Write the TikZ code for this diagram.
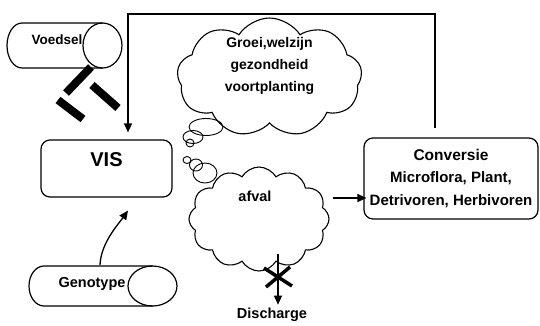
\documentclass[tikz,border=0pt]{standalone}
\usepackage{fontspec}
\setmainfont{Liberation Sans}
\usetikzlibrary{shapes.geometric,shapes.symbols,arrows.meta}
\begin{document}
\begin{tikzpicture}[x=1pt,y=-1pt,
    every node/.style={font=\fontsize{14.5}{21.5}\selectfont\bfseries},
    kast/.style={draw,line width=1.2pt,rounded corners=9pt,align=center},
    vat/.style={draw,line width=1.2pt},
    wolk/.style={cloud,draw,line width=1.1pt,cloud puffs=9,cloud puff arc=115,cloud ignores aspect},
    bel/.style={ellipse,draw,line width=0.9pt,inner sep=0pt},
    pijl/.style={-{Triangle[length=9pt,width=8pt]},line width=1.3pt},
    balk/.style={line width=8pt}]
  \useasboundingbox (0,0) rectangle (540,325);
  % boxes
  \node[kast,minimum width=131pt,minimum height=57pt] (vis) at (106.5,168.5) {};
  \node[font=\fontsize{20}{20}\selectfont\bfseries] (vistekst) at ([yshift=8.5pt]vis.center) {VIS};
  \node[kast,minimum width=174pt,minimum height=81pt,font=\fontsize{15}{22.5}\selectfont\bfseries]
    (conv) at (451,178.5) {{\fontsize{15.5}{15.5}\selectfont Conversie}\\Microflora, Plant,\\Detrivoren, Herbivoren};
  % cylinders
  \draw[vat] (102.5,23) -- (22,23) arc[start angle=270,end angle=90,x radius=15,y radius=22.5] -- (102.5,68);
  \draw[vat] (102.5,45.5) ellipse [x radius=19.5,y radius=22.5];
  \node[font=\fontsize{13.5}{13.5}\selectfont\bfseries] (voedsel) at (57,40) {Voedsel};
  \draw[vat] (152.5,266) -- (44,266) arc[start angle=270,end angle=90,x radius=15,y radius=20] -- (152.5,306);
  \draw[vat] (152.5,286) ellipse [x radius=24.5,y radius=20];
  \node (geno) at (92,284) {Genotype};
  % clouds
  \node[wolk,minimum width=185pt,minimum height=119pt] (groei) at (269.5,77.5) {};
  \node[align=center,font=\fontsize{14}{22}\selectfont\bfseries] (groeitekst) at ([yshift=12pt]groei.center) {Groei,welzijn\\gezondheid\\voortplanting};
  \node[wolk,cloud puffs=12,cloud puff arc=120,minimum width=140pt,minimum height=104pt] (afval) at (259,219) {};
  \node (afvaltekst) at (255,196) {afval};
  \node[bel,minimum width=34pt,minimum height=17pt] (b1) at (206,127) {};
  \node[bel,minimum width=20pt,minimum height=13pt] (b2) at (193,137) {};
  \node[bel,minimum width=8pt,minimum height=8pt] (b3) at (190,143) {};
  \node[bel,minimum width=8pt,minimum height=7pt] (c1) at (187,160) {};
  \node[bel,minimum width=13pt,minimum height=12pt] (c2) at (196,165) {};
  \node[bel,minimum width=24pt,minimum height=20pt] (c3) at (205,173) {};
  % food bars
  \draw[balk] (91,67) -- (66,93);
  \draw[balk] (58,100) -- (83,119);
  \draw[balk] (92,85) -- (118,108);
  % feedback
  \coordinate (hoekR) at (435,14);
  \coordinate (hoekL) at (128,14);
  \draw[pijl,shorten <=9pt,shorten >=7pt] (conv.north -| hoekR) -- (hoekR) -- (hoekL) -- (vis.north -| hoekL);
  \draw[pijl] ([xshift=8pt,yshift=9pt]geno.north) .. controls +(1,-22) and +(-10,14) .. ([xshift=21.5pt,yshift=-13pt]vis.south);
  \draw[pijl] ([yshift=21pt,xshift=3pt]afval.east) -- ([yshift=21pt,xshift=3pt]afval.east -| conv.west);
  % discharge
  \node (disch) at (272,315) {Discharge};
  \coordinate (afvoer) at (278,254);
  \draw[pijl] (afvoer) -- (afvoer |- disch.north);
  \draw[line width=3.5pt] (264,268) -- (292,286) (266,287) -- (290,267);
\end{tikzpicture}
\end{document}
